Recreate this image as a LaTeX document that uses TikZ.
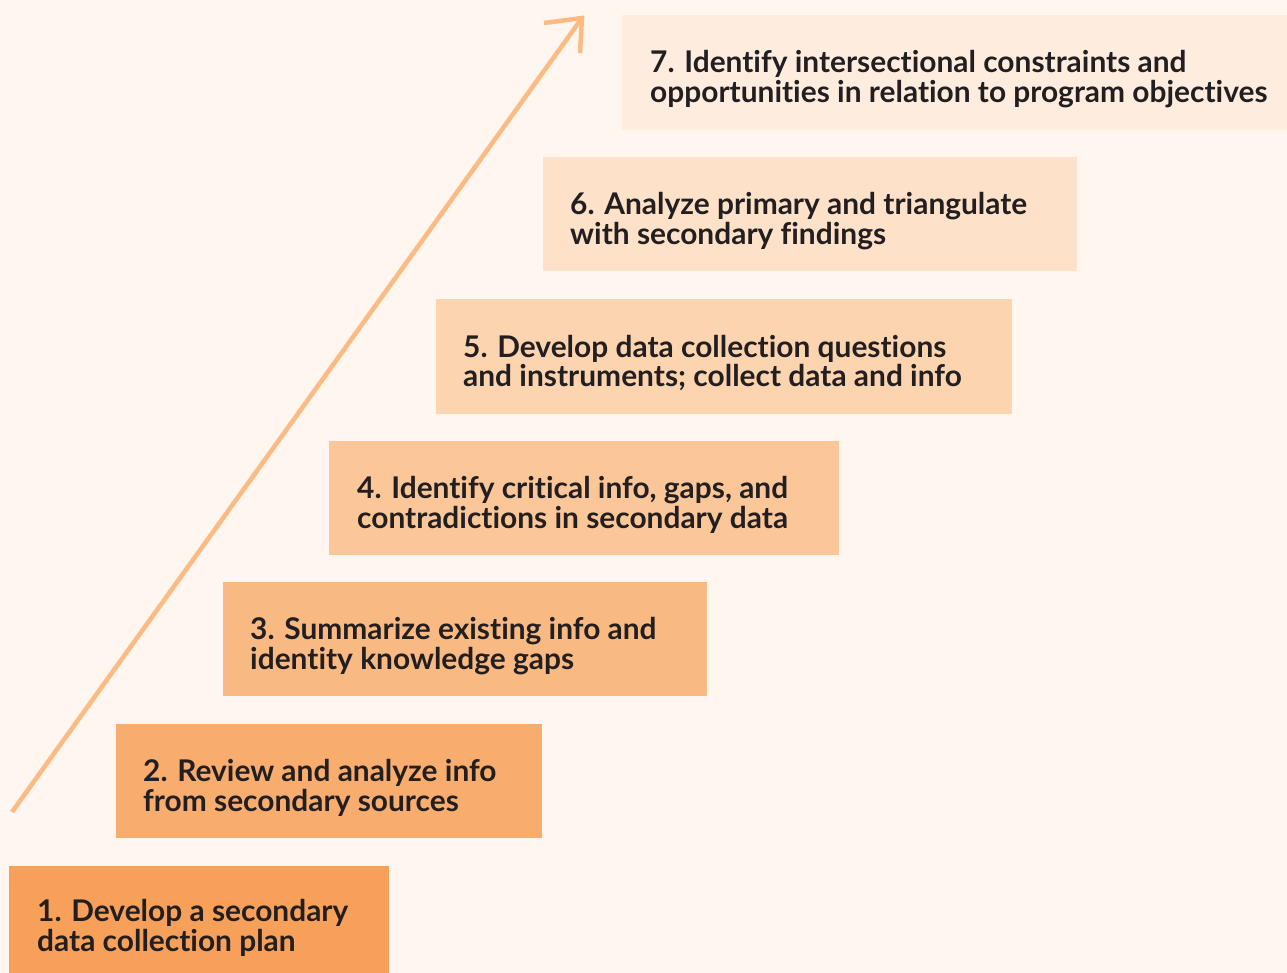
\documentclass[tikz,border=0pt]{standalone}
\usepackage{fontspec}
\usetikzlibrary{calc}
\setmainfont{Lato}[BoldFont={Lato Bold}, Ligatures=NoCommon]
\definecolor{bgc}{HTML}{FEF6EF}
\definecolor{txt}{HTML}{231F20}
\definecolor{arr}{HTML}{FDBA82}
\definecolor{c1}{HTML}{F7A05A}
\definecolor{c2}{HTML}{F8AD6F}
\definecolor{c3}{HTML}{F9B983}
\definecolor{c4}{HTML}{FBC698}
\definecolor{c5}{HTML}{FCD4B0}
\definecolor{c6}{HTML}{FDE1C8}
\definecolor{c7}{HTML}{FEEDDF}
\tikzset{
  stepbox/.style={inner sep=0pt, outer sep=0pt, anchor=north west, draw=none},
  steptext/.style={anchor=west, align=left, text=txt, font=\bfseries\fontsize{30}{29.5}\selectfont, inner sep=0pt},
  arrline/.style={draw=arr, line width=4.5bp},
}
\begin{document}
\begin{tikzpicture}[x=1bp,y=-1bp]
\fill[bgc] (0,0) rectangle (1287,973);
\useasboundingbox (0,0) rectangle (1287,973);
% boxes
\node[stepbox, fill=c1, minimum width=380bp, minimum height=107bp] (b1) at (9,866) {};
\node[stepbox, fill=c2, minimum width=426bp, minimum height=114bp] (b2) at (116,724) {};
\node[stepbox, fill=c3, minimum width=484bp, minimum height=114bp] (b3) at (223,582) {};
\node[stepbox, fill=c4, minimum width=510bp, minimum height=114bp] (b4) at (329,441) {};
\node[stepbox, fill=c5, minimum width=576bp, minimum height=115bp] (b5) at (436,299) {};
\node[stepbox, fill=c6, minimum width=534bp, minimum height=114bp] (b6) at (543,157) {};
\node[stepbox, fill=c7, minimum width=665bp, minimum height=115bp] (b7) at (622,15) {};
\node[steptext] (t1) at (37,928) {1. Develop a secondary\\data collection plan};
\node[steptext] (t2) at (143,788) {2. Review and analyze info\\from secondary sources};
\node[steptext] (t3) at (250,646) {3. Summarize existing info and\\identity knowledge gaps};
\node[steptext] (t4) at (357,505) {4. Identify critical info, gaps, and\\contradictions in secondary data};
\node[steptext] (t5) at (463,363) {5. Develop data collection questions\\and instruments; collect data and info};
\node[steptext] (t6) at (570,221) {6. Analyze primary and triangulate\\with secondary findings};
\node[steptext] (t7) at (650,79) {7. Identify intersectional constraints and\\opportunities in relation to program objectives};
\coordinate (a0) at (12,812);
\coordinate (a1) at (582,18);
\draw[arrline] (a0) -- (a1);
\draw[arrline] ($(a1)+(-38,5)$) -- (a1) -- ($(a1)+(-2,35)$);
\end{tikzpicture}
\end{document}
